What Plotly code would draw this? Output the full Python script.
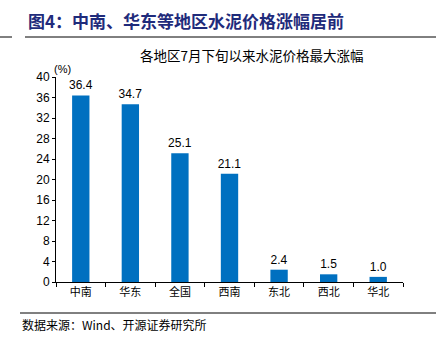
import plotly.graph_objects as go

categories = ["中南", "华东", "全国", "西南", "东北", "西北", "华北"]
values = [36.4, 34.7, 25.1, 21.1, 2.4, 1.5, 1.0]
value_labels = ["36.4", "34.7", "25.1", "21.1", "2.4", "1.5", "1.0"]
y_ticks = [0, 4, 8, 12, 16, 20, 24, 28, 32, 36, 40]

W, H = 442, 349
L, R, T, B = 56, 39, 77, 67

CJK = "Noto Sans CJK SC"
NUM = "Liberation Sans, Arial"

fig = go.Figure()
fig.add_trace(go.Bar(
    x=categories, y=values, marker_color="#0070C0", marker_line_width=0,
    text=value_labels, textposition="outside", cliponaxis=False, constraintext="none",
    textfont=dict(family=NUM, size=12, color="#000000"),
))

fig.update_layout(
    width=W, height=H, margin=dict(l=L, r=R, t=T, b=B),
    paper_bgcolor="white", plot_bgcolor="white",
    showlegend=False, bargap=0.65,
    xaxis=dict(
        showline=True, linecolor="#000000", linewidth=1,
        ticks="outside", ticklen=4, tickcolor="#000000", tickson="boundaries",
        tickfont=dict(family=CJK, size=11, color="#000000"),
        showgrid=False,
    ),
    yaxis=dict(
        range=[0, 40], tickvals=y_ticks, showline=True, linecolor="#000000", linewidth=1,
        ticks="outside", ticklen=3, tickcolor="#000000",
        tickfont=dict(family=NUM, size=12, color="#000000"),
        showgrid=False, zeroline=False,
    ),
)

def px_x(p):
    return (p - L) / (W - L - R)

def px_y(p):
    return (H - B - p) / (H - T - B)

fig.add_annotation(xref="paper", yref="paper", x=px_x(26), y=px_y(21),
                   xanchor="left", yanchor="middle", showarrow=False,
                   text="<b>图4：中南、华东等地区水泥价格涨幅居前</b>",
                   font=dict(family=CJK, size=17, color="#1F2B7B"))
fig.add_annotation(xref="paper", yref="paper", x=px_x(252), y=px_y(55),
                   xanchor="center", yanchor="middle", showarrow=False,
                   text="各地区7月下旬以来水泥价格最大涨幅",
                   font=dict(family=CJK, size=13.5, color="#000000"))
fig.add_annotation(xref="paper", yref="paper", x=px_x(52), y=px_y(69),
                   xanchor="left", yanchor="middle", showarrow=False,
                   text="(%)", font=dict(family=NUM, size=11, color="#000000"))
fig.add_annotation(xref="paper", yref="paper", x=px_x(20), y=px_y(324),
                   xanchor="left", yanchor="middle", showarrow=False,
                   text="数据来源：Wind、开源证券研究所",
                   font=dict(family=CJK, size=12, color="#000000"))

fig.add_shape(type="line", xref="paper", yref="paper", x0=px_x(25), x1=px_x(436), y0=px_y(37), y1=px_y(37),
              line=dict(color="#000000", width=1))
fig.add_shape(type="line", xref="paper", yref="paper", x0=px_x(0), x1=px_x(12), y0=px_y(37), y1=px_y(37),
              line=dict(color="#000000", width=1))
fig.add_shape(type="line", xref="paper", yref="paper", x0=px_x(20), x1=px_x(436), y0=px_y(313), y1=px_y(313),
              line=dict(color="#000000", width=1))

fig.write_html("out.html")
